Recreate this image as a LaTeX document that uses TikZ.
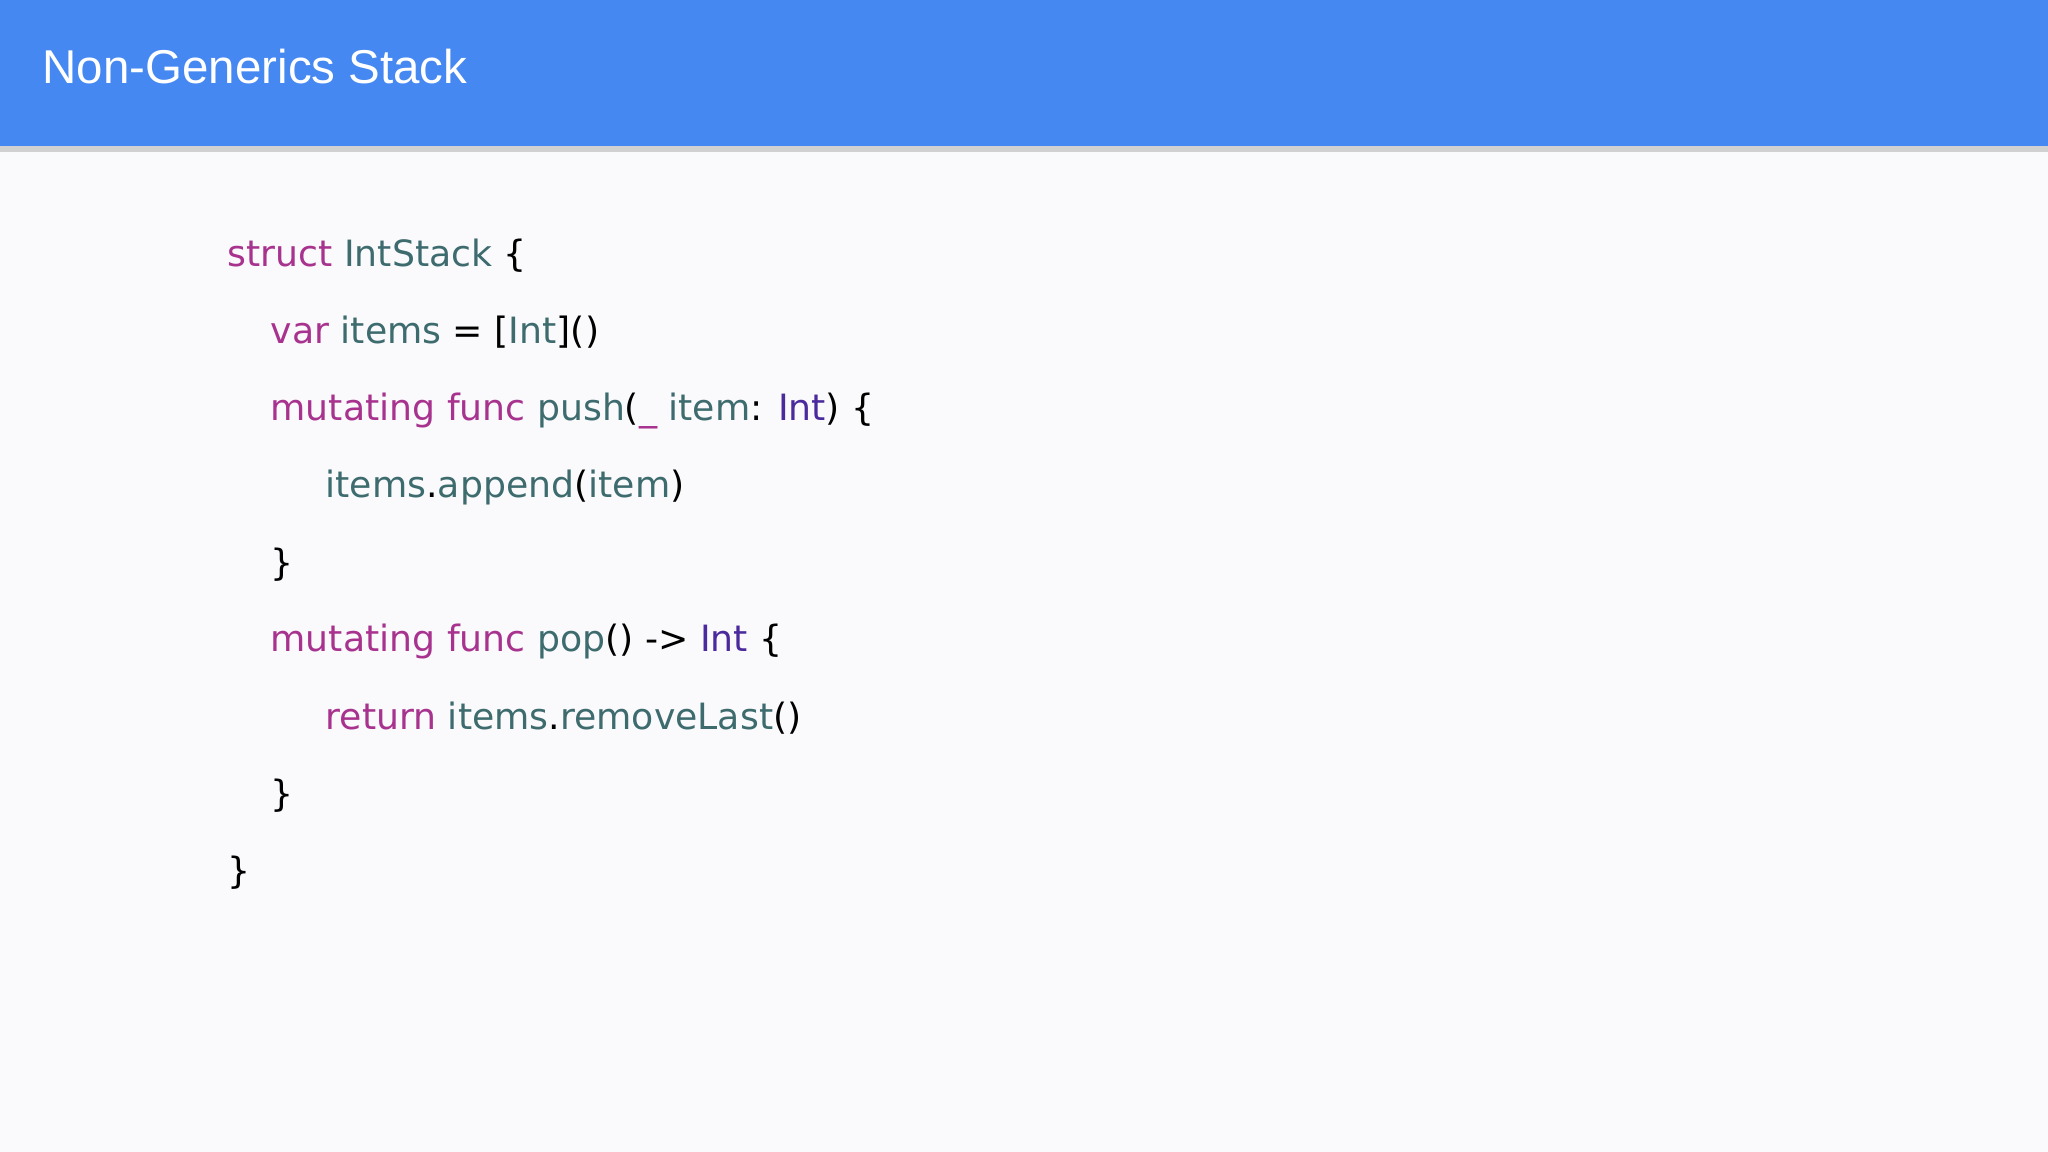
\documentclass[tikz,border=0pt]{standalone}
\usepackage{fontspec}
\setmainfont{DejaVu Sans}
\newfontfamily\titlefont{Liberation Sans}
\definecolor{header}{HTML}{4688F1}
\definecolor{paper}{HTML}{FAFAFC}
\definecolor{kw}{HTML}{A8338F}
\definecolor{ident}{HTML}{3D6B6E}
\definecolor{typ}{HTML}{4A2A9C}
\newcommand{\kw}[1]{\textcolor{kw}{#1}}
\newcommand{\id}[1]{\textcolor{ident}{#1}}
\newcommand{\ty}[1]{\textcolor{typ}{#1}}
\begin{document}
\begin{tikzpicture}[x=0.01cm,y=-0.01cm,
  codeline/.style={anchor=base west,inner sep=0pt,font=\fontsize{10.3}{12}\selectfont}]

	\fill[paper] (0,0) rectangle (2048,1152);
	\fill[black!18] (0,146) rectangle (2048,152);
	\fill[header] (0,0) rectangle (2048,146);
	\node (title) at (42,84) [anchor=base west,inner sep=0pt,text=white,font=\titlefont\fontsize{13.5}{16}\selectfont] {Non-Generics Stack};

	% code
	\node (l1) at (227,267) [codeline] {\kw{struct} \id{IntStack} \{};
	\node (l2) at (270,344) [codeline] {\kw{var} \id{items} = [\id{Int}]()};
	\node (l3) at (270,421) [codeline] {\kw{mutating} \kw{func} \id{push}(\kw{\_} \id{item}: \ty{Int}) \{};
	\node (l4) at (325,498) [codeline] {\id{items}.\id{append}(\id{item})};
	\node (l5) at (270,575) [codeline] {\}};
	\node (l6) at (270,652) [codeline] {\kw{mutating} \kw{func} \id{pop}() -> \ty{Int} \{};
	\node (l7) at (325,729) [codeline] {\kw{return} \id{items}.\id{removeLast}()};
	\node (l8) at (270,806) [codeline] {\}};
	\node (l9) at (227,883) [codeline] {\}};

\end{tikzpicture}
\end{document}
